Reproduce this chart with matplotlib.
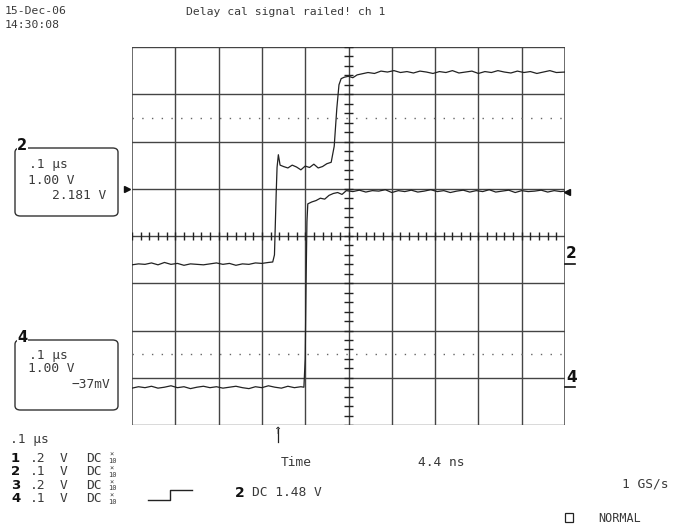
import matplotlib
matplotlib.use("Agg")
import matplotlib.pyplot as plt
from matplotlib.patches import FancyBboxPatch, Rectangle
from matplotlib.lines import Line2D

# trace data, in screen divisions (x: 0.1 us/div, y: 1 V/div)
ch2_t = [-5.0, -4.85, -4.7, -4.55, -4.4, -4.25, -4.1, -3.95, -3.8, -3.65, -3.5, -3.35,
         -3.2, -3.05, -2.9, -2.75, -2.6, -2.45, -2.3, -2.15, -2.0, -1.85, -1.75,
         -1.71, -1.67, -1.65, -1.62, -1.58,
         -1.5, -1.4, -1.3, -1.2, -1.1, -1.0, -0.9, -0.8, -0.7, -0.6, -0.5, -0.4,
         -0.33, -0.27, -0.22, -0.17,
         -0.1, 0.0, 0.1, 0.2, 0.3, 0.45, 0.6, 0.75, 0.9, 1.05, 1.2, 1.35, 1.5, 1.65,
         1.8, 1.95, 2.1, 2.25, 2.4, 2.55, 2.7, 2.85, 3.0, 3.15, 3.3, 3.45, 3.6, 3.75,
         3.9, 4.05, 4.2, 4.35, 4.5, 4.65, 4.8, 5.0]
ch2_v = [-0.61, -0.59, -0.60, -0.57, -0.61, -0.56, -0.60, -0.58, -0.62, -0.59, -0.60, -0.61,
         -0.59, -0.57, -0.60, -0.58, -0.62, -0.59, -0.60, -0.57, -0.58, -0.56, -0.55,
         -0.40, 0.90, 1.45, 1.72, 1.50,
         1.47, 1.44, 1.50, 1.46, 1.40, 1.48, 1.45, 1.52, 1.44, 1.47, 1.53, 1.56,
         1.90, 2.70, 3.20, 3.33,
         3.36, 3.38, 3.35, 3.41, 3.43, 3.46, 3.44, 3.49, 3.47, 3.50, 3.46, 3.48, 3.45, 3.49,
         3.47, 3.44, 3.48, 3.46, 3.50, 3.45, 3.47, 3.49, 3.44, 3.48, 3.46, 3.50, 3.47, 3.45,
         3.49, 3.46, 3.48, 3.44, 3.47, 3.50, 3.46, 3.47]

ch4_t = [-5.0, -4.85, -4.7, -4.55, -4.4, -4.25, -4.1, -3.95, -3.8, -3.65, -3.5, -3.35,
         -3.2, -3.05, -2.9, -2.75, -2.6, -2.45, -2.3, -2.15, -2.0, -1.85, -1.7, -1.55,
         -1.4, -1.25, -1.1, -1.03,
         -1.0, -0.98, -0.96, -0.94,
         -0.85, -0.75, -0.65, -0.55, -0.45, -0.35, -0.25, -0.15, -0.05,
         0.1, 0.25, 0.4, 0.55, 0.7, 0.85, 1.0, 1.15, 1.3, 1.45, 1.6, 1.75, 1.9, 2.05,
         2.2, 2.35, 2.5, 2.65, 2.8, 2.95, 3.1, 3.25, 3.4, 3.55, 3.7, 3.85, 4.0, 4.15,
         4.3, 4.45, 4.6, 4.75, 4.9, 5.0]
ch4_v = [-3.22, -3.19, -3.21, -3.18, -3.22, -3.20, -3.17, -3.21, -3.19, -3.23, -3.20, -3.18,
         -3.21, -3.19, -3.22, -3.20, -3.18, -3.21, -3.23, -3.19, -3.21, -3.17, -3.20, -3.22,
         -3.18, -3.21, -3.19, -3.20,
         -2.60, -1.00, 0.30, 0.68,
         0.72, 0.75, 0.80, 0.78, 0.86, 0.90, 0.92, 0.88, 0.96,
         0.94, 0.97, 0.93, 0.96, 0.95, 0.98, 0.92, 0.96, 0.94, 0.97, 0.93, 0.95, 0.98, 0.94,
         0.96, 0.92, 0.95, 0.97, 0.93, 0.96, 0.94, 0.98, 0.93, 0.95, 0.97, 0.92, 0.96, 0.94,
         0.95, 0.97, 0.93, 0.96, 0.94, 0.95]

W, H = 676, 527
MONO = "DejaVu Sans Mono"
INK = "#3a3a3a"

fig = plt.figure(figsize=(W / 100, H / 100), dpi=100)

def fpos(x, y):
    return x / W, 1 - y / H

def put(x, y, s, size=9.3, ha="left", **kw):
    fx, fy = fpos(x, y)
    kw.setdefault("family", MONO)
    kw.setdefault("color", INK)
    fig.text(fx, fy, s, ha=ha, va="center", size=size, **kw)

# graticule
ax = fig.add_axes([132 / W, 1 - 425 / H, (565 - 132) / W, (425 - 47) / H])
ax.set_xlim(-5, 5)
ax.set_ylim(-4, 4)
ax.axis("off")

for gx in range(-5, 6):
    ax.axvline(gx, color="#444", lw=1.0 if gx not in (-5, 5) else 1.1)
for gy in range(-4, 5):
    ax.axhline(gy, color="#444", lw=1.0)
for gy in (-2.5, 2.5):
    ax.axhline(gy, color="#666", lw=1.0, ls=(0, (1, 6)))

minor_x = [i / 5 for i in range(-25, 26)]
minor_y = [i / 5 for i in range(-20, 21)]
ax.vlines(minor_x, -0.09, 0.09, color="#222", lw=1.0)
ax.hlines(minor_y, -0.1, 0.1, color="#222", lw=1.0)

# traces
ax.plot(ch2_t, ch2_v, color="#222", lw=0.9)
ax.plot(ch4_t, ch4_v, color="#222", lw=0.9)

# level markers
ax.plot([-5.11], [1.0], marker=">", color="#111", ms=5, clip_on=False)
ax.plot([5.05], [0.93], marker="<", color="#111", ms=5, clip_on=False)

# header
put(5, 11, "15-Dec-06", size=8.2)
put(5, 25, "14:30:08", size=8.2)
put(186, 12, "Delay cal signal railed! ch 1", size=8.2)

# channel boxes
for top, bot, num, lines in [
    (148, 216, "2", [(".1 μs", 29, 164, "left"), ("1.00 V", 28, 180, "left"), ("2.181 V", 106, 196, "right")]),
    (340, 410, "4", [(".1 μs", 29, 355, "left"), ("1.00 V", 28, 369, "left"), ("−37mV", 110, 384, "right")]),
]:
    x0, y0 = fpos(15, bot)
    box = FancyBboxPatch((x0, y0), 103 / W, (bot - top) / H,
                         boxstyle="round,pad=0,rounding_size=0.008",
                         transform=fig.transFigure, fill=False, ec="#333", lw=1.0)
    fig.add_artist(box)
    put(17, top - 3, num, size=10.5, weight="bold", family="DejaVu Sans", color="#111",
        bbox=dict(fc="white", ec="none", pad=0.3))
    for s, x, y, ha in lines:
        put(x, y, s, ha=ha)

# bottom panel
put(10, 440, ".1 μs")
rows = [("1", ".2"), ("2", ".1"), ("3", ".2"), ("4", ".1")]
for i, (ch, vdiv) in enumerate(rows):
    y = 458 + 13.6 * i
    put(11, y, ch, size=9.5, weight="bold", family="DejaVu Sans", color="#111")
    put(30, y, vdiv)
    put(60, y, "V")
    put(86, y, "DC")
    put(109, y - 3, "×", size=5)
    put(108, y + 3, "10", size=5)

step = Line2D([148 / W, 170 / W, 170 / W, 192 / W],
              [1 - 500 / H, 1 - 500 / H, 1 - 490 / H, 1 - 490 / H],
              transform=fig.transFigure, color="#222", lw=1.0)
fig.add_artist(step)
put(235, 493, "2", size=10, weight="bold", family="DejaVu Sans", color="#111")
put(252, 493, "DC 1.48 V")
put(281, 463, "Time")
put(418, 463, "4.4 ns")
put(668, 484, "1 GS/s", ha="right")
put(598, 518, "NORMAL", size=8.5)
x0, y0 = fpos(565, 522)
fig.add_artist(Rectangle((x0, y0), 8 / W, 9 / H, transform=fig.transFigure,
                         fill=False, ec="#222", lw=0.9))

# trigger position arrow
fig.add_artist(Line2D([278 / W, 278 / W], [1 - 442 / H, 1 - 429 / H],
                      transform=fig.transFigure, color="#222", lw=0.9))
fig.text(278 / W, 1 - 431 / H, "↑", ha="center", va="center", size=7, color="#222")

# right-side ground markers
for num, y in [("2", 254), ("4", 377)]:
    put(566, y, num, size=11, weight="bold", family="DejaVu Sans", color="#111")
    fig.add_artist(Line2D([565 / W, 575 / W], [1 - (y + 10) / H] * 2,
                          transform=fig.transFigure, color="#111", lw=1.2))

fig.savefig("out.png", dpi=100, facecolor="white")
